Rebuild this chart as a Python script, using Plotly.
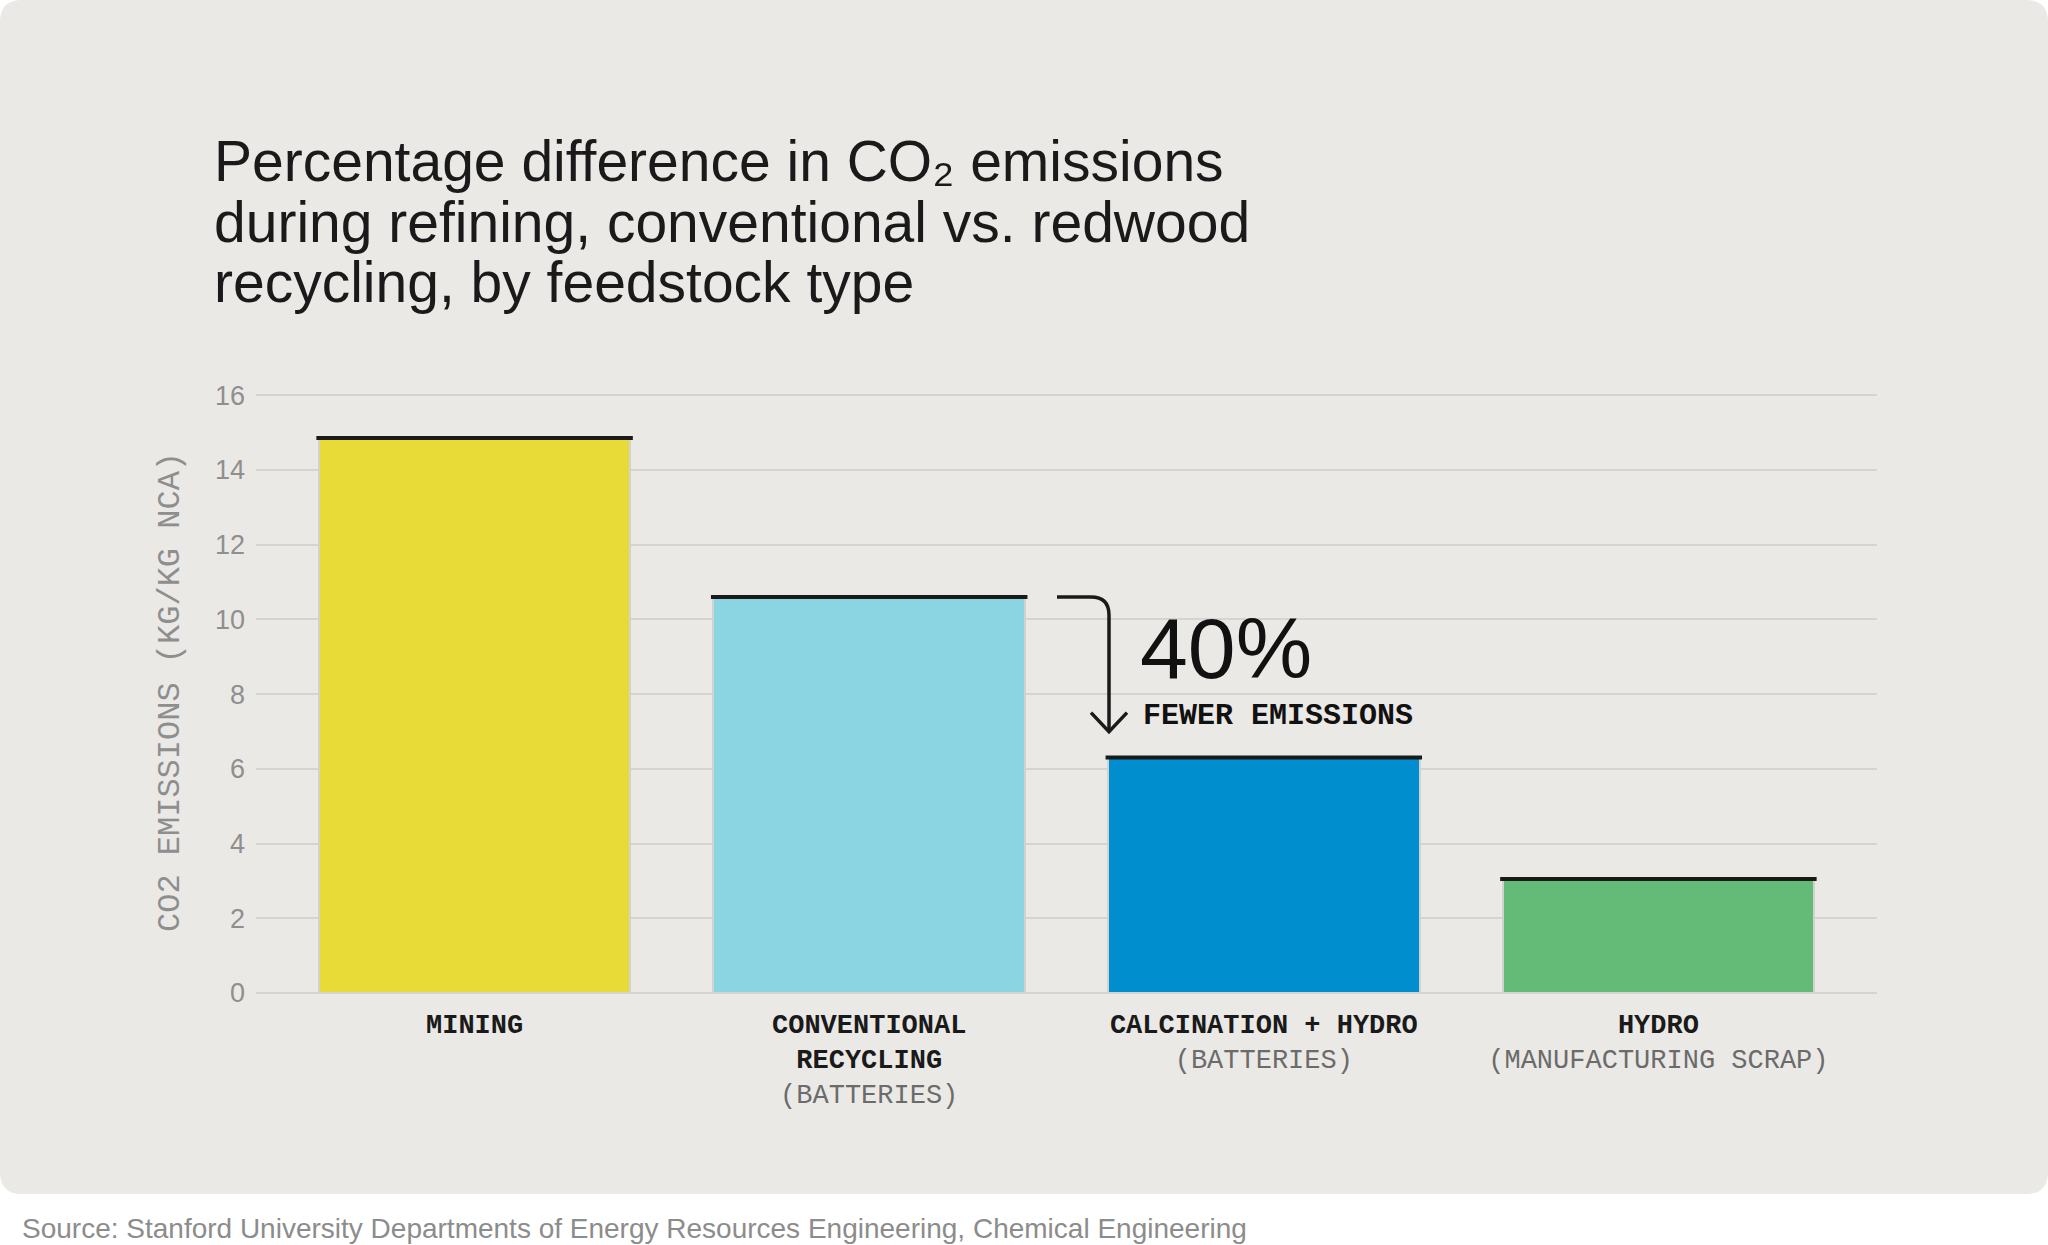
import plotly.graph_objects as go

# data
categories = ["MINING", "CONVENTIONAL<br>RECYCLING", "CALCINATION + HYDRO", "HYDRO"]
subtitles = ["", "(BATTERIES)", "(BATTERIES)", "(MANUFACTURING SCRAP)"]
emissions = [14.85, 10.6, 6.3, 3.05]
bar_colors = ["#E8DA37", "#8AD5E1", "#008ECF", "#64BB78"]
y_ticks = [0, 2, 4, 6, 8, 10, 12, 14, 16]

title_lines = [
    "Percentage difference in CO₂ emissions",
    "during refining, conventional vs. redwood",
    "recycling, by feedstock type",
]
source = "Source: Stanford University Departments of Energy Resources Engineering, Chemical Engineering"

# ======================
# canvas / pixel helpers
# ======================
W, H = 2048, 1245
L, R, T, B = 256, 171, 394, 252
PW, PH = W - L - R, H - T - B
Y_MAX = 16.03


def px(x):
    return (x - L) / PW


def py(y):
    return (H - B - y) / PH


def yv(v):
    # data value -> pixel y
    return T + (Y_MAX - v) / Y_MAX * PH


def rounded_rect(x0, y0, x1, y1, r):
    pts = [
        ("M", x0 + r, y0), ("L", x1 - r, y0), ("Q", x1, y0, x1, y0 + r),
        ("L", x1, y1 - r), ("Q", x1, y1, x1 - r, y1),
        ("L", x0 + r, y1), ("Q", x0, y1, x0, y1 - r),
        ("L", x0, y0 + r), ("Q", x0, y0, x0 + r, y0),
    ]
    out = []
    for p in pts:
        if p[0] == "Q":
            out.append(f"Q {px(p[1])},{py(p[2])} {px(p[3])},{py(p[4])}")
        else:
            out.append(f"{p[0]} {px(p[1])},{py(p[2])}")
    return " ".join(out) + " Z"


MONO = "Liberation Mono, DejaVu Sans Mono, monospace"
SANS = "Liberation Sans, Arial, sans-serif"

ticktext = []
for m, s in zip(categories, subtitles):
    t = f"<b>{m}</b>"
    if s:
        t += f"<br><span style='color:#6b6b6b'>{s}</span>"
    ticktext.append(t)

x_pos = list(range(len(categories)))
bar_w = 0.79

fig = go.Figure()

fig.add_trace(go.Bar(
    x=x_pos,
    y=emissions,
    width=bar_w,
    marker=dict(color=bar_colors, line=dict(color="#d2d2d0", width=2)),
    hoverinfo="skip",
))

# black caps on top of each bar
cap_x, cap_y = [], []
for i, v in zip(x_pos, emissions):
    cap_x += [i - bar_w / 2 - 0.006, i + bar_w / 2 + 0.006, None]
    cap_y += [v, v, None]
fig.add_trace(go.Scatter(
    x=cap_x, y=cap_y, mode="lines",
    line=dict(color="#1a1a1a", width=4),
    hoverinfo="skip",
))

# background panel
shapes = [dict(
    type="path", xref="paper", yref="paper", layer="below",
    path=rounded_rect(0, 0, W, 1194, 22),
    fillcolor="#EAE9E6", line=dict(width=0),
)]

# arrow from conventional to calcination
ay0 = yv(emissions[1])
ax0, ax1, rad = 1057, 1109, 18
tip = yv(emissions[2]) - 26
shapes.append(dict(
    type="path", xref="paper", yref="paper",
    path=(f"M {px(ax0)},{py(ay0)} L {px(ax1 - rad)},{py(ay0)} "
          f"Q {px(ax1)},{py(ay0)} {px(ax1)},{py(ay0 + rad)} L {px(ax1)},{py(tip)}"),
    line=dict(color="#1a1a1a", width=3.5),
))
shapes.append(dict(
    type="path", xref="paper", yref="paper",
    path=f"M {px(ax1 - 18)},{py(tip - 19)} L {px(ax1)},{py(tip)} L {px(ax1 + 18)},{py(tip - 19)}",
    line=dict(color="#1a1a1a", width=3.5),
))

annotations = []
for line, yc in zip(title_lines, [161, 222, 282]):
    annotations.append(dict(
        text=line, xref="paper", yref="paper", x=px(212), y=py(yc),
        xanchor="left", yanchor="middle", showarrow=False,
        font=dict(family=SANS, size=57, color="#1a1a1a"),
    ))

annotations.append(dict(
    text="CO2 EMISSIONS (KG/KG NCA)", xref="paper", yref="paper",
    x=px(170), y=py(692), textangle=-90, showarrow=False,
    xanchor="center", yanchor="middle",
    font=dict(family=MONO, size=32, color="#8e8e8e"),
))

annotations.append(dict(
    text="40%", xref="paper", yref="paper", x=px(1138), y=py(648),
    xanchor="left", yanchor="middle", showarrow=False,
    font=dict(family=SANS, size=86, color="#111111"),
))
annotations.append(dict(
    text="<b>FEWER EMISSIONS</b>", xref="paper", yref="paper", x=px(1141), y=py(716),
    xanchor="left", yanchor="middle", showarrow=False,
    font=dict(family=MONO, size=30, color="#111111"),
))

annotations.append(dict(
    text=source, xref="paper", yref="paper", x=px(20), y=py(1228),
    xanchor="left", yanchor="middle", showarrow=False,
    font=dict(family=SANS, size=28, color="#8c8c8c"),
))

fig.update_layout(
    width=W, height=H,
    margin=dict(l=L, r=R, t=T, b=B, autoexpand=False),
    paper_bgcolor="white",
    plot_bgcolor="rgba(0,0,0,0)",
    showlegend=False,
    shapes=shapes,
    annotations=annotations,
    bargap=0,
)
fig.update_xaxes(
    range=[-0.554, 3.554],
    tickvals=x_pos, ticktext=ticktext,
    tickfont=dict(family=MONO, size=27, color="#1a1a1a"),
    showgrid=False, zeroline=False, showline=False,
    ticks="", ticklabelstandoff=12,
    fixedrange=True,
)
fig.update_yaxes(
    range=[0, Y_MAX],
    tickvals=y_ticks,
    tickfont=dict(family=SANS, size=27, color="#8f8f8f"),
    showgrid=True, gridcolor="#d5d4d1", gridwidth=2,
    zeroline=True, zerolinecolor="#d5d4d1", zerolinewidth=2,
    showline=False, ticks="", ticklabelstandoff=10,
    fixedrange=True,
)

# page body has a default margin; drop it so the figure fills the window
fig.write_html(
    "out.html",
    config={"displayModeBar": False},
    post_script="document.body.style.margin='0';",
)
print("Saved: out.html")
